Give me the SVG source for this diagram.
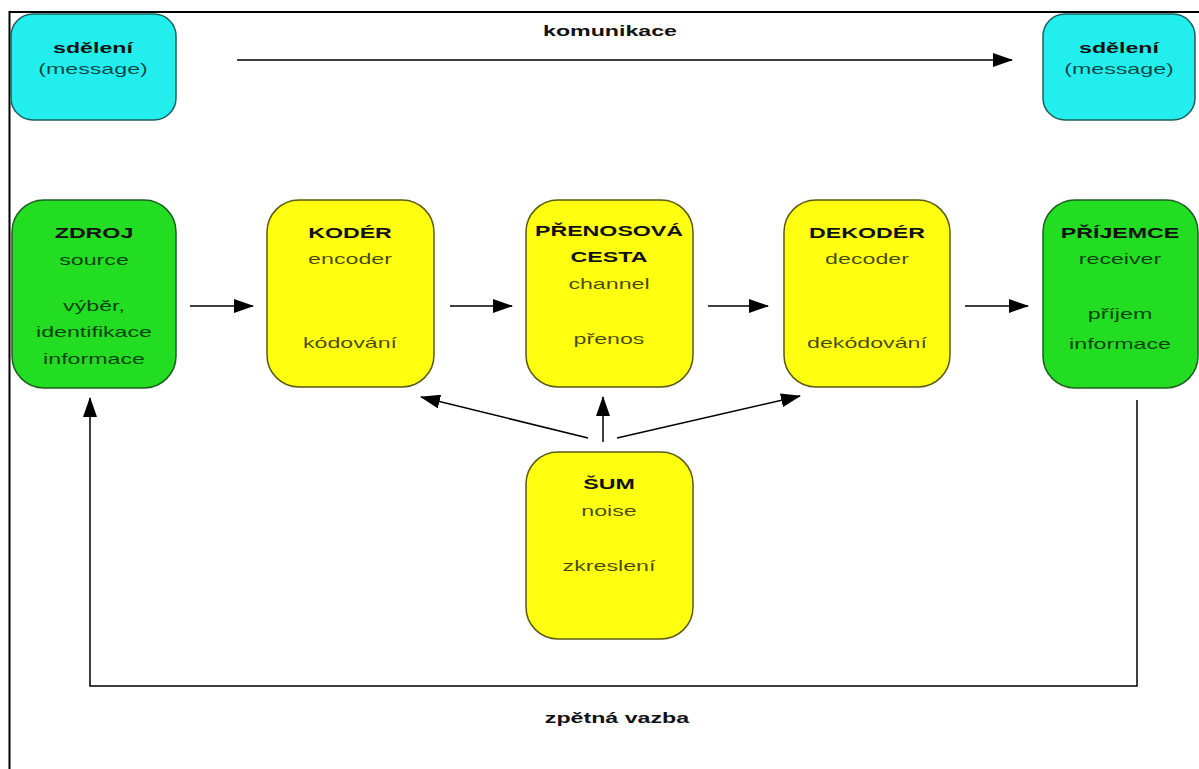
<svg xmlns="http://www.w3.org/2000/svg" width="1199" height="769" viewBox="0 0 1199 769">
<defs>
<marker id="ah" viewBox="0 0 20 14" refX="19" refY="7" markerWidth="20" markerHeight="14" markerUnits="userSpaceOnUse" orient="auto">
<path d="M0,0 L20,7 L0,14 Z" fill="#000"/>
</marker>
</defs>
<style>
.cyan{fill:#22EEEE;stroke:#1f5f5f;stroke-width:1.5}
.green{fill:#22DD22;stroke:#1f5f1f;stroke-width:1.5}
.yellow{fill:#FFFF10;stroke:#5a5a10;stroke-width:1.5}
text{font-family:"Liberation Sans",Arial,sans-serif;font-size:14.5px;text-anchor:middle}
.b{font-weight:bold;fill:#111}
.r{fill:#000;fill-opacity:0.72}
.conn line,.conn polyline{stroke:#000;stroke-width:1.5;fill:none}
.fb{stroke:#555;stroke-width:2;fill:none}
</style>
<rect x="0" y="0" width="1199" height="769" fill="#fff"/>
<path d="M9.5 769 V12 H1199" fill="none" stroke="#000" stroke-width="2"/>

<g id="msg-left">
<rect class="cyan" x="11" y="14" width="165" height="106" rx="22"/>
<text class="b" transform="translate(93 53) scale(1.6 1)">sdělení</text>
<text class="r" transform="translate(93 74) scale(1.6 1)">(message)</text>
</g>
<g id="msg-right">
<rect class="cyan" x="1043" y="14" width="152" height="106" rx="22"/>
<text class="b" transform="translate(1119 53) scale(1.6 1)">sdělení</text>
<text class="r" transform="translate(1119 74) scale(1.6 1)">(message)</text>
</g>

<g id="zdroj">
<rect class="green" x="12" y="200" width="164" height="188" rx="32"/>
<text class="b" transform="translate(94 238) scale(1.6 1)">ZDROJ</text>
<text class="r" transform="translate(94 265) scale(1.6 1)">source</text>
<text class="r" transform="translate(94 311) scale(1.6 1)">výběr,</text>
<text class="r" transform="translate(94 337) scale(1.6 1)">identifikace</text>
<text class="r" transform="translate(94 364) scale(1.6 1)">informace</text>
</g>
<g id="koder">
<rect class="yellow" x="267" y="200" width="167" height="187" rx="32"/>
<text class="b" transform="translate(350 238) scale(1.6 1)">KODÉR</text>
<text class="r" transform="translate(350 264) scale(1.6 1)">encoder</text>
<text class="r" transform="translate(350 348) scale(1.6 1)">kódování</text>
</g>
<g id="prenosova-cesta">
<rect class="yellow" x="526" y="200" width="167" height="187" rx="32"/>
<text class="b" transform="translate(609 236) scale(1.6 1)">PŘENOSOVÁ</text>
<text class="b" transform="translate(609 262) scale(1.6 1)">CESTA</text>
<text class="r" transform="translate(609 289) scale(1.6 1)">channel</text>
<text class="r" transform="translate(609 344) scale(1.6 1)">přenos</text>
</g>
<g id="dekoder">
<rect class="yellow" x="784" y="200" width="166" height="187" rx="32"/>
<text class="b" transform="translate(867 238) scale(1.6 1)">DEKODÉR</text>
<text class="r" transform="translate(867 264) scale(1.6 1)">decoder</text>
<text class="r" transform="translate(867 348) scale(1.6 1)">dekódování</text>
</g>
<g id="prijemce">
<rect class="green" x="1043" y="200" width="155" height="188" rx="32"/>
<text class="b" transform="translate(1120 238) scale(1.6 1)">PŘÍJEMCE</text>
<text class="r" transform="translate(1120 264) scale(1.6 1)">receiver</text>
<text class="r" transform="translate(1120 319) scale(1.6 1)">příjem</text>
<text class="r" transform="translate(1120 349) scale(1.6 1)">informace</text>
</g>
<g id="sum">
<rect class="yellow" x="526" y="452" width="167" height="187" rx="32"/>
<text class="b" transform="translate(609 489) scale(1.6 1)">ŠUM</text>
<text class="r" transform="translate(609 516) scale(1.6 1)">noise</text>
<text class="r" transform="translate(609 571) scale(1.6 1)">zkreslení</text>
</g>

<g id="connectors" class="conn">
<line x1="237" y1="60" x2="1012" y2="60" marker-end="url(#ah)"/>
<line x1="190" y1="306" x2="253" y2="306" marker-end="url(#ah)"/>
<line x1="450" y1="306" x2="512" y2="306" marker-end="url(#ah)"/>
<line x1="708" y1="306" x2="768" y2="306" marker-end="url(#ah)"/>
<line x1="965" y1="306" x2="1028" y2="306" marker-end="url(#ah)"/>
<line x1="588" y1="438" x2="421" y2="397" marker-end="url(#ah)"/>
<line x1="603" y1="442" x2="603" y2="397" marker-end="url(#ah)"/>
<line x1="617" y1="438" x2="800" y2="396" marker-end="url(#ah)"/>
<polyline class="fb" points="1137,400 1137,686 90,686 90,398" marker-end="url(#ah)"/>
</g>

<g id="labels">
<text class="b" transform="translate(610 36) scale(1.6 1)">komunikace</text>
<text class="b" transform="translate(617 723) scale(1.6 1)">zpětná vazba</text>
</g>
</svg>
